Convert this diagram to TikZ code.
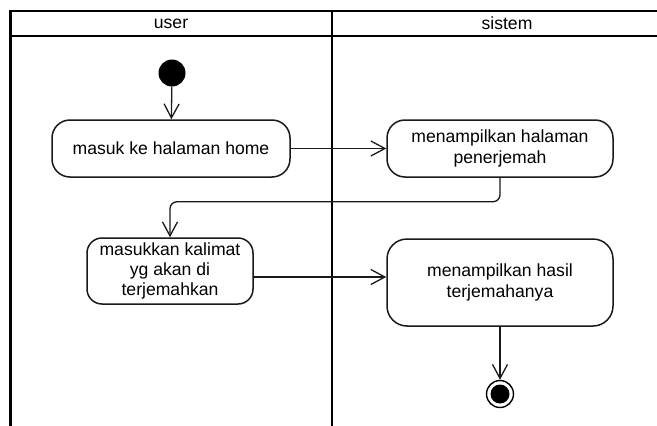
\documentclass[tikz,border=0pt]{standalone}
\usepackage{fontspec}
\setmainfont{Liberation Sans}
\usetikzlibrary{arrows.meta,calc}

\begin{document}
\begin{tikzpicture}[x=1pt,y=-1pt,
  font=\fontsize{17.6}{21}\selectfont,
  lane/.style={line width=2.8pt,black},
  action/.style={draw,line width=1.5pt,rounded corners=18pt,align=center,
    inner sep=0pt,black!90,text=black},
  flow/.style={line width=1.3pt,black!90,
    -{Straight Barb[length=14pt,width=15pt,line width=1.3pt]}},
]
\useasboundingbox (0,0) rectangle (657,426);
\clip (0,0) rectangle (657,426);

% swimlane frame
\draw[lane] (10.5,440) -- (10.5,11) -- (700,11);
\draw[lane] (10.5,36) -- (700,36);
\draw[lane] (332,11) -- (332,440);
\node (laneuser) at (171,23.5) {user};
\node (lanesys)  at (507,23.5) {sistem};

% initial node
\node[circle,fill=black,minimum size=27pt,inner sep=0pt] (start) at (172,73) {};

% actions
\node[action,minimum width=238pt,minimum height=57pt] (home) at (171,148.5)
  {masuk ke halaman home};
\node[action,minimum width=226pt,minimum height=57pt] (show) at (500,148.5)
  {menampilkan halaman\\penerjemah};
\node[action,rounded corners=15pt,minimum width=166pt,minimum height=66pt,
  font=\fontsize{17.6}{20}\selectfont] (input) at (170,271)
  {masukkan kalimat\\yg akan di\\terjemahkan};
\node[action,rounded corners=20pt,minimum width=226pt,minimum height=87pt] (result) at (500,282.5)
  {menampilkan hasil\\terjemahanya};

% final node
\node[circle,draw,line width=1.4pt,minimum size=27pt,inner sep=0pt] (final) at (500,394) {};
\node[circle,fill=black,minimum size=19pt,inner sep=0pt] (finaldot) at (final) {};

% control flow
\draw[flow] (start) -- (home);
\draw[flow] (home.east) -- (show.west);
\draw[flow,rounded corners=7pt] (show.south) -- ++(0,24) -| (input.north);
\draw[flow] ($(input.east)+(0,6)$) -- ($(result.west)+(0,-5.5)$);
\draw[flow] (result) -- (final);
\end{tikzpicture}
\end{document}
